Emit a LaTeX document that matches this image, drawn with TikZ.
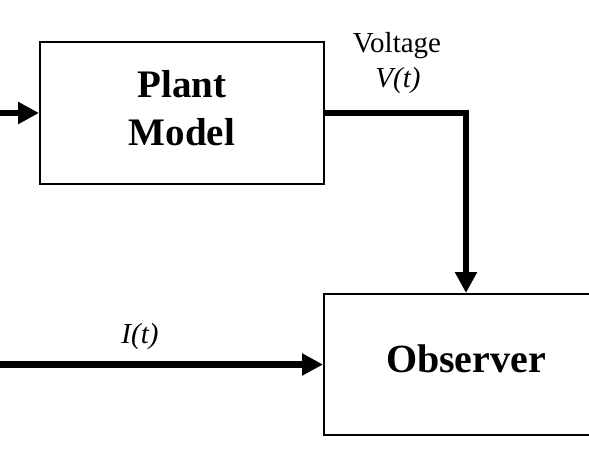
\documentclass[tikz,border=0pt]{standalone}
\usepackage{fontspec}
\setmainfont{Liberation Serif}
\usetikzlibrary{arrows.meta}
\tikzset{
  blockbox/.style={draw=black, line width=2pt, inner sep=0pt, minimum width=284pt},
  blocktext/.style={inner sep=0pt, align=center, font=\fontsize{39}{48}\selectfont\bfseries},
  thickarrow/.style={line width=6.5pt, -{Triangle[length=21pt,width=21pt]}},
  lbl/.style={font=\fontsize{29}{30}\selectfont, anchor=base, inner sep=0pt},
}
\begin{document}
\begin{tikzpicture}[x=1pt,y=-1pt]
\useasboundingbox (0,0) rectangle (589,461);
\clip (0,0) rectangle (589,461);
\node[blockbox, minimum height=142pt] (plant) at (182,113) {};
\node[blocktext] (plantt) at (182,108) {Plant\\Model};
\node[blockbox, minimum height=141pt] (obs) at (466,364.5) {};
\node[blocktext, font=\fontsize{40}{48}\selectfont\bfseries, anchor=base] (obst) at (466,372) {Observer};
\coordinate (inp) at (0,113);
\coordinate (cur) at (0,364.5);
\draw[thickarrow] (inp) -- (plant.west);
\draw[thickarrow] (plant.east) -| (obs.north);
\draw[thickarrow] (cur) -- (obs.west);
\node[lbl] (volt) at (397,52) {Voltage};
\node[lbl] (vt) at (398,87) {\itshape V(t)};
\node[lbl] (it) at (140,343) {\itshape I(t)};
\end{tikzpicture}
\end{document}
